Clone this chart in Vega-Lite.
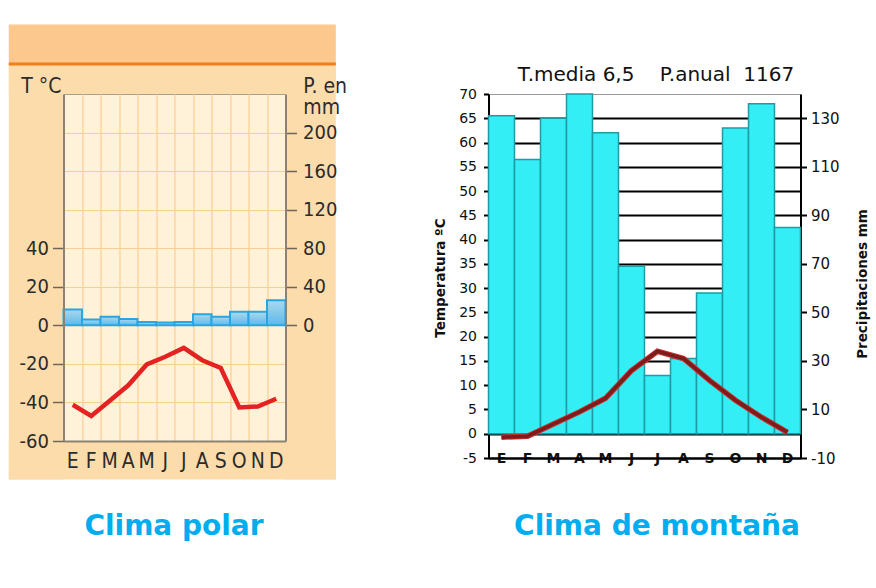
{
  "$schema": "https://vega.github.io/schema/vega-lite/v6.json",
  "background": "white",
  "padding": {"left": 6.5, "top": 24, "right": 4, "bottom": 4},
  "bounds": "flush",
  "spacing": 203,
  "datasets": {
    "polar": [
      {"mes": "Ene", "temp": -41.2, "precip": 16.5},
      {"mes": "Feb", "temp": -47, "precip": 6},
      {"mes": "Mar", "temp": -39.1, "precip": 9},
      {"mes": "Abr", "temp": -31.1, "precip": 6.5},
      {"mes": "May", "temp": -20.3, "precip": 3.5},
      {"mes": "Jun", "temp": -16.3, "precip": 3},
      {"mes": "Jul", "temp": -11.7, "precip": 3.5},
      {"mes": "Ago", "temp": -18.1, "precip": 11.5},
      {"mes": "Sep", "temp": -22.1, "precip": 9},
      {"mes": "Oct", "temp": -42.6, "precip": 14},
      {"mes": "Nov", "temp": -42.1, "precip": 14},
      {"mes": "Dic", "temp": -38.1, "precip": 26}
    ],
    "montana": [
      {"mes": "Ene", "temp": -0.7, "precip": 131},
      {"mes": "Feb", "temp": -0.5, "precip": 113},
      {"mes": "Mar", "temp": 2, "precip": 130},
      {"mes": "Abr", "temp": 4.5, "precip": 140},
      {"mes": "May", "temp": 7.3, "precip": 124},
      {"mes": "Jun", "temp": 13, "precip": 69},
      {"mes": "Jul", "temp": 17, "precip": 24},
      {"mes": "Ago", "temp": 15.5, "precip": 31},
      {"mes": "Sep", "temp": 11, "precip": 58},
      {"mes": "Oct", "temp": 6.9, "precip": 126},
      {"mes": "Nov", "temp": 3.4, "precip": 136},
      {"mes": "Dic", "temp": 0.3, "precip": 85}
    ]
  },
  "hconcat": [
    {
      "width": 222,
      "height": 347,
      "data": {"name": "polar"},
      "view": {"fill": "#FFF2D8", "stroke": "#A89F90", "strokeWidth": 1},
      "layer": [
        {
          "data": {"values": [{}]},
          "layer": [
            {
              "mark": {"type": "rect", "fill": "#FDDCAB"},
              "encoding": {
                "x": {
                  "datum": -2.957, "type": "quantitative",
                  "scale": {"domain": [0, 12], "nice": false, "zero": false},
                  "axis": {"orient": "bottom", "values": [0, 1, 2, 3, 4, 5, 6, 7, 8, 9, 10, 11, 12], "tickCount": 30, "grid": true, "gridColor": "#F8CE93", "gridWidth": 1.2, "labels": false, "ticks": false, "domain": false, "title": null, "zindex": 0}
                },
                "x2": {"datum": 0},
                "y": {
                  "datum": -80, "type": "quantitative",
                  "scale": {"domain": [-60, 120], "nice": false, "zero": false},
                  "axis": {"orient": "left", "values": [-40, -20, 0, 20, 40, 60, 80, 100], "tickCount": 30, "grid": true, "gridColor": "#F8CE93", "gridWidth": 1.2, "labels": false, "ticks": false, "domain": false, "title": null, "zindex": 0}
                },
                "y2": {"datum": 136.08}
              }
            },
            {
              "mark": {"type": "rect", "fill": "#FDDCAB"},
              "encoding": {
                "x": {"datum": 12, "type": "quantitative"},
                "x2": {"datum": 14.72},
                "y": {"datum": -80, "type": "quantitative"},
                "y2": {"datum": 136.08}
              }
            },
            {
              "mark": {"type": "rect", "fill": "#FDDCAB"},
              "encoding": {
                "x": {"datum": -2.957, "type": "quantitative"},
                "x2": {"datum": 14.72},
                "y": {"datum": -80, "type": "quantitative"},
                "y2": {"datum": -60}
              }
            },
            {
              "mark": {"type": "rect", "fill": "#FDDCAB"},
              "encoding": {
                "x": {"datum": -2.957, "type": "quantitative"},
                "x2": {"datum": 14.72},
                "y": {"datum": 120, "type": "quantitative"},
                "y2": {"datum": 136.08}
              }
            },
            {
              "mark": {"type": "rect", "fill": "#FCC88E"},
              "encoding": {
                "x": {"datum": -2.957, "type": "quantitative"},
                "x2": {"datum": 14.72},
                "y": {"datum": 136.08, "type": "quantitative"},
                "y2": {"datum": 156.05}
              }
            },
            {
              "mark": {"type": "rule", "color": "#EF7E1C", "strokeWidth": 3},
              "encoding": {
                "x": {"datum": -2.957, "type": "quantitative"},
                "x2": {"datum": 14.72},
                "y": {"datum": 135.6, "type": "quantitative"}
              }
            }
          ]
        },
        {
          "encoding": {
            "x": {
              "field": "mes",
              "type": "nominal",
              "sort": null,
              "scale": {"paddingInner": 0, "paddingOuter": 0},
              "axis": {
                "orient": "bottom",
                "zindex": 1,
                "labelExpr": "substring(datum.label, 0, 1)",
                "labelAngle": 0,
                "labelFont": "Liberation Sans Narrow, DejaVu Sans Condensed, Liberation Sans",
                "labelFontSize": 21,
                "labelColor": "#2B2B2B",
                "labelBaseline": "alphabetic",
                "labelPadding": 26,
                "labelOverlap": false,
                "ticks": false,
                "grid": false,
                "domainColor": "#8C8273",
                "domainWidth": 2,
                "title": "Clima polar",
                "titleFont": "DejaVu Sans",
                "titleFontSize": 28,
                "titleFontWeight": "bold",
                "titleColor": "#00AEEF",
                "titleAlign": "center",
                "titleBaseline": "alphabetic",
                "titleX": 110,
                "titleY": 93.5
              }
            }
          },
          "layer": [
            {
              "mark": {
                "type": "bar",
                "stroke": "#2AA5E0",
                "strokeWidth": 2,
                "fill": {
                  "gradient": "linear",
                  "x1": 0, "y1": 0, "x2": 0, "y2": 1,
                  "stops": [
                    {"offset": 0, "color": "#A9D9F0"},
                    {"offset": 1, "color": "#5FB8E5"}
                  ]
                }
              },
              "encoding": {
                "y": {
                  "field": "precip",
                  "type": "quantitative",
                  "scale": {"domain": [-120, 240], "nice": false, "zero": false},
                  "axis": {
                    "orient": "right",
                    "zindex": 1,
                    "values": [0, 40, 80, 120, 160, 200],
                    "tickCount": 30,
                    "grid": false,
                    "tickSize": 11,
                    "tickColor": "#6E665C",
                    "tickWidth": 1.5,
                    "domainColor": "#8C8273",
                    "domainWidth": 2,
                    "labelFont": "Liberation Sans Narrow, DejaVu Sans Condensed, Liberation Sans",
                    "labelFontSize": 20,
                    "labelColor": "#2B2B2B",
                    "labelPadding": 6,
                    "labelOverlap": false,
                    "title": ["P. en", "mm"],
                    "titleAngle": 0,
                    "titleAlign": "left",
                    "titleBaseline": "alphabetic",
                    "titleX": 17.3,
                    "titleY": -1.5,
                    "titleLineHeight": 21,
                    "titleFont": "Liberation Sans Narrow, DejaVu Sans Condensed, Liberation Sans",
                    "titleFontSize": 21,
                    "titleFontWeight": "normal",
                    "titleColor": "#2B2B2B"
                  }
                },
                "y2": {"datum": 0}
              }
            },
            {
              "mark": {"type": "line", "color": "#E52222", "strokeWidth": 4.5},
              "encoding": {
                "y": {
                  "field": "temp",
                  "type": "quantitative",
                  "scale": {"domain": [-60, 120], "nice": false, "zero": false},
                  "axis": {
                    "orient": "left",
                    "zindex": 1,
                    "values": [-60, -40, -20, 0, 20, 40],
                    "tickCount": 30,
                    "labelExpr": "'' + datum.value",
                    "grid": false,
                    "tickSize": 11,
                    "tickColor": "#6E665C",
                    "tickWidth": 1.5,
                    "domainColor": "#8C8273",
                    "domainWidth": 2,
                    "labelFont": "Liberation Sans Narrow, DejaVu Sans Condensed, Liberation Sans",
                    "labelFontSize": 20,
                    "labelColor": "#2B2B2B",
                    "labelPadding": 4,
                    "labelOverlap": false,
                    "title": "T °C",
                    "titleAngle": 0,
                    "titleAlign": "left",
                    "titleBaseline": "alphabetic",
                    "titleX": -42.7,
                    "titleY": -1.5,
                    "titleFont": "Liberation Sans Narrow, DejaVu Sans Condensed, Liberation Sans",
                    "titleFontSize": 21,
                    "titleFontWeight": "normal",
                    "titleColor": "#2B2B2B"
                  }
                }
              }
            }
          ],
          "resolve": {"scale": {"y": "independent"}}
        }
      ],
      "resolve": {"scale": {"x": "independent", "y": "independent"}}
    },
    {
      "width": 312,
      "height": 364,
      "data": {"name": "montana"},
      "view": {"stroke": "#9A9A9A", "strokeWidth": 1},
      "title": {
        "text": "T.media 6,5\u00a0\u00a0\u00a0\u00a0P.anual\u00a0\u00a01167",
        "font": "DejaVu Sans",
        "fontSize": 20,
        "fontWeight": "normal",
        "color": "#111111",
        "anchor": "middle",
        "frame": "group",
        "dx": 11.5,
        "dy": 27,
        "offset": 13.5,
        "baseline": "alphabetic"
      },
      "encoding": {
        "x": {
          "field": "mes",
          "type": "nominal",
          "sort": null,
          "scale": {"paddingInner": 0, "paddingOuter": 0},
          "axis": {
            "orient": "bottom",
            "labelExpr": "substring(datum.label, 0, 1)",
            "labelAngle": 0,
            "labelFont": "DejaVu Sans",
            "labelFontSize": 14,
            "labelFontWeight": "bold",
            "labelColor": "#111111",
            "labelBaseline": "middle",
            "labelPadding": 0,
            "labelOverlap": false,
            "ticks": false,
            "grid": false,
            "domainColor": "#000000",
            "domainWidth": 2,
            "title": "Clima de montaña",
            "titleFont": "DejaVu Sans",
            "titleFontSize": 28,
            "titleFontWeight": "bold",
            "titleColor": "#00AEEF",
            "titleAlign": "center",
            "titleBaseline": "alphabetic",
            "titleX": 168,
            "titleY": 76.5
          }
        }
      },
      "layer": [
        {
          "mark": {"type": "bar", "fill": "#33EEF4", "stroke": "#1E9BA5", "strokeWidth": 1.5},
          "encoding": {
            "y": {
              "field": "precip",
              "type": "quantitative",
              "scale": {"domain": [-10, 140], "nice": false, "zero": false},
              "axis": {
                "orient": "right",
                "values": [-10, 10, 30, 50, 70, 90, 110, 130],
                "tickCount": 30,
                "labelExpr": "'' + datum.value",
                "labelOverlap": false,
                "grid": false,
                "tickSize": 6,
                "tickColor": "#000000",
                "tickWidth": 2,
                "domainColor": "#000000",
                "domainWidth": 2,
                "labelFont": "DejaVu Sans",
                "labelFontSize": 15,
                "labelColor": "#111111",
                "labelPadding": 4,
                "title": "Precipitaciones mm",
                "titleFont": "DejaVu Sans",
                "titleFontSize": 13.5,
                "titleFontWeight": "bold",
                "titleColor": "#111111",
                "titleAngle": 270,
                "titleAlign": "center",
                "titleBaseline": "middle",
                "titleX": 62,
                "titleY": 189.5
              }
            },
            "y2": {"datum": 0}
          }
        },
        {
          "layer": [
            {
              "mark": {"type": "rule", "color": "#000000", "strokeWidth": 2},
              "encoding": {"y": {"datum": 0, "type": "quantitative"}}
            },
            {
              "mark": {"type": "line", "color": "#C93030", "strokeWidth": 5.5},
              "encoding": {"y": {"field": "temp", "type": "quantitative"}}
            },
            {
              "mark": {"type": "line", "color": "#7E1B1B", "strokeWidth": 3.5},
              "encoding": {
                "y": {
                  "field": "temp",
                  "type": "quantitative",
                  "scale": {"domain": [-5, 70], "nice": false, "zero": false},
                  "axis": {
                    "orient": "left",
                    "values": [-5, 0, 5, 10, 15, 20, 25, 30, 35, 40, 45, 50, 55, 60, 65, 70],
                    "tickCount": 30,
                    "labelExpr": "'' + datum.value",
                    "labelOverlap": false,
                    "grid": true,
                    "gridColor": {"condition": {"test": "datum.value === 70", "value": "#9A9A9A"}, "value": "#000000"},
                    "gridWidth": {"condition": {"test": "datum.value === 70", "value": 1}, "value": 2},
                    "tickSize": 5,
                    "tickColor": "#000000",
                    "tickWidth": 2,
                    "domainColor": "#000000",
                    "domainWidth": 2,
                    "labelFont": "DejaVu Sans",
                    "labelFontSize": 14,
                    "labelColor": "#111111",
                    "labelPadding": 7,
                    "title": "Temperatura ºC",
                    "titleFont": "DejaVu Sans",
                    "titleFontSize": 13.5,
                    "titleFontWeight": "bold",
                    "titleColor": "#111111",
                    "titleAngle": 270,
                    "titleAlign": "center",
                    "titleBaseline": "middle",
                    "titleX": -48,
                    "titleY": 183.5
                  }
                }
              }
            }
          ]
        }
      ],
      "resolve": {"scale": {"y": "independent"}}
    }
  ]
}
